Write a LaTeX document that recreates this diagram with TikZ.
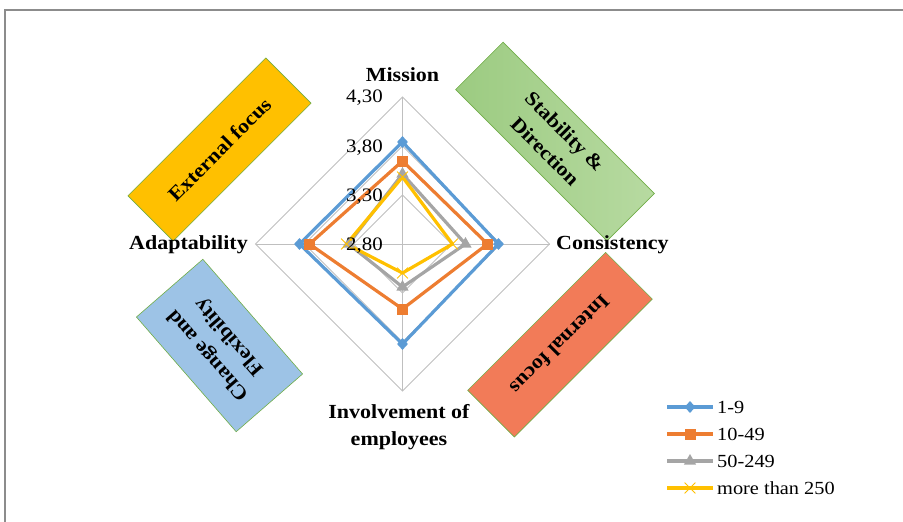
\documentclass[tikz,border=0pt]{standalone}
\usepackage{fontspec}
\setmainfont{Liberation Serif}[FakeStretch=1.1]
\usetikzlibrary{shapes.geometric,shapes.misc,calc}
\definecolor{sblue}{HTML}{5B9BD5}
\definecolor{sorange}{HTML}{ED7D31}
\definecolor{sgrey}{HTML}{A5A5A5}
\definecolor{syellow}{HTML}{FFC000}
\definecolor{gridc}{HTML}{BFBFBF}
\definecolor{boxedge}{HTML}{70AD47}
\definecolor{fyellow}{HTML}{FFC000}
\definecolor{fgreenA}{HTML}{9CCB81}
\definecolor{fgreenB}{HTML}{B7DAA1}
\definecolor{fblue}{HTML}{9DC3E6}
\definecolor{fred}{HTML}{F27B58}
\definecolor{framec}{HTML}{8C8C8C}
\begin{document}
\begin{tikzpicture}[x=1pt,y=-1pt,
  lbl/.style={font=\fontsize{20}{27}\selectfont\bfseries, inner sep=0, align=center},
  ticklbl/.style={font=\fontsize{19}{22}\selectfont, inner sep=0, anchor=east},
  quad/.style={draw=boxedge, line width=0.6pt, inner sep=0, font=\fontsize{20}{28}\selectfont\bfseries, align=center},
  gridline/.style={draw=gridc, line width=0.9pt},
  serline/.style={line width=3.2pt, line join=round},
  bmk/.style={diamond, fill=sblue, inner sep=0, minimum width=11pt, minimum height=12pt},
  omk/.style={rectangle, fill=sorange, inner sep=0, minimum size=11pt},
  gmk/.style={regular polygon, regular polygon sides=3, fill=sgrey, inner sep=0, minimum size=14pt},
  ymk/.style={cross out, draw=syellow, line width=0.8pt, inner sep=0, minimum size=10pt},
  legtxt/.style={font=\fontsize{18.5}{22}\selectfont, inner sep=0, anchor=west}]
\useasboundingbox (0,0) rectangle (903,522);
\draw[framec, line width=1.2pt] (5,522) -- (5,10) -- (903,10);

% grid
\coordinate (c) at (402.5,244);
\coordinate (gm) at (402.5,97);  \coordinate (gc) at (549.5,244);
\coordinate (gi) at (402.5,391); \coordinate (ga) at (255.5,244);
\coordinate (hm) at (402.5,146); \coordinate (hc) at (500.5,244);
\coordinate (hi) at (402.5,342); \coordinate (ha) at (304.5,244);
\coordinate (km) at (402.5,195); \coordinate (kc) at (451.5,244);
\coordinate (ki) at (402.5,293); \coordinate (ka) at (353.5,244);
\draw[gridline] (gm)--(gc)--(gi)--(ga)--cycle;
\draw[gridline] (hm)--(hc)--(hi)--(ha)--cycle;
\draw[gridline] (km)--(kc)--(ki)--(ka)--cycle;
\draw[gridline] (c)--(gm) (c)--(gc) (c)--(gi) (c)--(ga);

% quadrant boxes
\node[quad, fill=fyellow, rotate=45, minimum width=195pt, minimum height=64pt] (ext) at (219.5,149.5) {External focus};
\node[quad, left color=fgreenA, right color=fgreenB, rotate=-45, minimum width=214pt, minimum height=67pt] (stab) at (555,141.5) {Stability \&\\Direction};
\node[quad, fill=fblue, rotate=131, minimum width=152pt, minimum height=88pt] (chg) at (219.5,345.5) {Change and\\Flexibility};
\node[quad, fill=fred, rotate=-135, minimum width=195pt, minimum height=66pt] (int) at (560,344.7) {Internal focus};

% axis labels
\node[lbl] (lm) at (402.5,75) {Mission};
\node[lbl, anchor=west] (lc) at (556,245) {Consistency};
\node[lbl, anchor=east] (la) at (248,245) {Adaptability};
\node[lbl] (li) at (399,427) {Involvement of\\employees};

% series points
\coordinate (b1) at (402.5,142); \coordinate (b2) at (498.5,244);
\coordinate (b3) at (402.5,344); \coordinate (b4) at (299.5,244);
\coordinate (o1) at (402.5,161); \coordinate (o2) at (487.5,244);
\coordinate (o3) at (402.5,309); \coordinate (o4) at (309.5,244);
\coordinate (g1) at (402.5,174); \coordinate (g2) at (465.5,244);
\coordinate (g3) at (402.5,287); \coordinate (g4) at (348.5,244);
\coordinate (y1) at (402.5,177); \coordinate (y2) at (452.5,244);
\coordinate (y3) at (402.5,273); \coordinate (y4) at (346.5,244);

\draw[serline, sblue] (b1)--(b2)--(b3)--(b4)--cycle;
\draw[serline, sorange] (o1)--(o2)--(o3)--(o4)--cycle;
\draw[serline, sgrey] (g1)--(g2)--(g3)--(g4)--cycle;
\draw[serline, syellow] (y1)--(y2)--(y3)--(y4)--cycle;
\foreach \p in {b1,b2,b3,b4} \node[bmk] at (\p) {};
\foreach \p in {o1,o2,o3,o4} \node[omk] at (\p) {};
\foreach \p in {g1,g2,g3,g4} \node[gmk] at (\p) {};
\foreach \p in {y1,y2,y3,y4} \node[ymk] at (\p) {};

% tick labels
\node[ticklbl] (t1) at (383,98) {4,30};
\node[ticklbl] (t2) at (383,148) {3,80};
\node[ticklbl] (t3) at (383,197) {3,30};
\node[ticklbl] (t4) at (383,246) {2,80};

% legend
\coordinate (l1a) at (667,407); \coordinate (l1b) at (713,407);
\coordinate (l2a) at (667,434); \coordinate (l2b) at (713,434);
\coordinate (l3a) at (667,461); \coordinate (l3b) at (713,461);
\coordinate (l4a) at (667,488); \coordinate (l4b) at (713,488);
\draw[serline, sblue] (l1a)--(l1b);
\draw[serline, sorange] (l2a)--(l2b);
\draw[serline, sgrey] (l3a)--(l3b);
\draw[serline, syellow] (l4a)--(l4b);
\node[bmk] at ($(l1a)!0.5!(l1b)$) {};
\node[omk] at ($(l2a)!0.5!(l2b)$) {};
\node[gmk] at ($(l3a)!0.5!(l3b)$) {};
\node[ymk] at ($(l4a)!0.5!(l4b)$) {};
\node[legtxt] (e1) at (717,407) {1-9};
\node[legtxt] (e2) at (717,434) {10-49};
\node[legtxt] (e3) at (717,461) {50-249};
\node[legtxt] (e4) at (717,488) {more than 250};
\end{tikzpicture}
\end{document}
